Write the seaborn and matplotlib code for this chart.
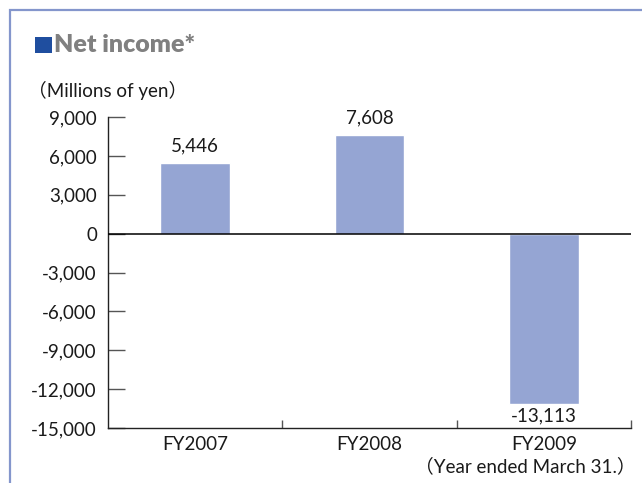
"""Net income bar chart (FY2007-FY2009), millions of yen."""
import matplotlib

matplotlib.use("Agg")
import matplotlib.pyplot as plt
import matplotlib.patches as mpatches
import pandas as pd
import seaborn as sns

# --- Data ------------------------------------------------------------------
years = ["FY2007", "FY2008", "FY2009"]
net_income = [5446, 7608, -13113]
value_labels = ["5,446", "7,608", "-13,113"]
y_ticks = [9000, 6000, 3000, 0, -3000, -6000, -9000, -12000, -15000]
y_tick_labels = ["9,000", "6,000", "3,000", "0", "-3,000", "-6,000",
                 "-9,000", "-12,000", "-15,000"]

BAR_COLOR = "#95a5d3"
FRAME_COLOR = "#8496cc"
FONT = ["Lato", "Noto Sans CJK JP", "DejaVu Sans"]

sns.set_style("white")
plt.rcParams["font.family"] = FONT

W, H = 642, 483
fig = plt.figure(figsize=(W / 100, H / 100), dpi=100)
ax = fig.add_axes([108 / W, 1 - 428 / H, (631 - 108) / W, (428 - 117) / H])

df = pd.DataFrame({"year": years, "value": net_income})
sns.barplot(data=df, x="year", y="value", color=BAR_COLOR, width=0.4,
            saturation=1, ax=ax, zorder=2)

ax.set_xlim(-0.5, 2.5)
ax.set_ylim(-15000, 9000)
ax.set_xlabel("")
ax.set_ylabel("")

# zero line
ax.axhline(0, color="black", lw=1.1, zorder=3)

# spines
sns.despine(ax=ax)
for side in ["left", "bottom"]:
    ax.spines[side].set_color("#222222")
    ax.spines[side].set_linewidth(1.0)

ax.set_yticks(y_ticks)
ax.set_yticklabels(y_tick_labels, fontsize=13.5, color="#1a1a1a")
ax.tick_params(axis="y", left=True, direction="in", length=12, width=1,
               color="#555555", pad=8)

ax.set_xticks(range(len(years)))
ax.set_xticklabels(years, fontsize=13.5, color="#1a1a1a")
ax.tick_params(axis="x", which="major", bottom=True, length=0, pad=6)
ax.set_xticks([0.5, 1.5, 2.5], minor=True)
ax.tick_params(axis="x", which="minor", bottom=True, direction="in",
               length=6, width=1, color="#555555")

# value labels
for i, (v, lab) in enumerate(zip(net_income, value_labels)):
    if v >= 0:
        ax.annotate(lab, (i, v), xytext=(0, 6), textcoords="offset points",
                    ha="center", va="bottom", fontsize=13.5, color="#1a1a1a")
    else:
        ax.annotate(lab, (i, v), xytext=(0, -3), textcoords="offset points",
                    ha="center", va="top", fontsize=13.5, color="#1a1a1a")

# frame around the panel
fig.patches.append(mpatches.Rectangle(
    (10 / W, -0.1), 1.0, 1 - 10 / H + 0.1, transform=fig.transFigure,
    fill=False, edgecolor=FRAME_COLOR, lw=1.6, zorder=0))

# title with blue square marker
fig.patches.append(mpatches.Rectangle(
    (35 / W, 1 - 53 / H), 17 / W, 16 / H, transform=fig.transFigure,
    facecolor="#1f4e9f", edgecolor="none"))
fig.text(54 / W, 1 - 45 / H, "Net income*", fontsize=18, fontweight="heavy",
         color="#808080", ha="left", va="center")

fig.text(28 / W, 1 - 90 / H, "（Millions of yen）", fontsize=13.5,
         color="#1a1a1a", ha="left", va="center")
fig.text(636 / W, 1 - 466 / H, "（Year ended March 31.）", fontsize=13.5,
         color="#1a1a1a", ha="right", va="center")

fig.savefig("out.png", dpi=100)
